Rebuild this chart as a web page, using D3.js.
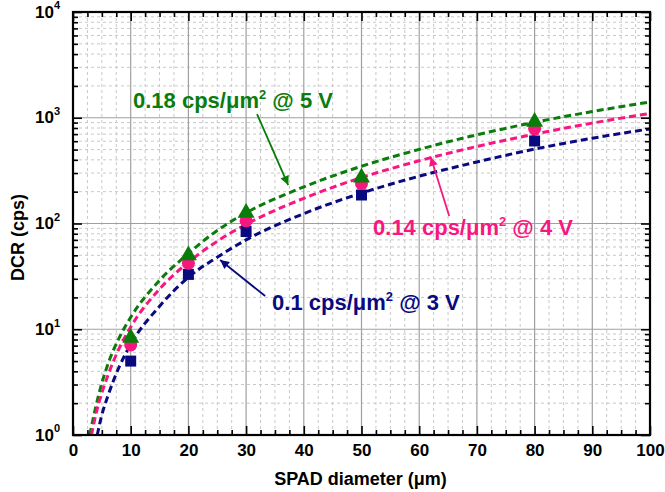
<!DOCTYPE html>
<html>
<head>
<meta charset="utf-8">
<script src="https://cdn.jsdelivr.net/npm/d3@7"></script>
<style>
  body { margin: 0; background: #fff; }
  svg { font-family: "Liberation Sans", Arial, sans-serif; font-weight: bold; }
</style>
</head>
<body>
<svg width="665" height="492"></svg>
<script>
const margin = { top: 12, right: 15, bottom: 57, left: 73 };
const width  = 665 - margin.left - margin.right;
const height = 492 - margin.top - margin.bottom;

// measured points
const diameters = [10, 20, 30, 50, 80];
const dcr3V = [5, 33, 84, 186, 603];
const dcr4V = [7.1, 42, 106, 238, 790];
const dcr5V = [8.3, 50, 126, 272, 915];

// fitted curves
const fit3V_d = [4.2, 5, 6, 8, 10, 15, 20, 25, 30, 40, 50, 60, 70, 80, 90, 100];
const fit3V_v = [1, 1.55, 2.3, 4.4, 7.2, 16.5, 31, 48, 70, 124, 194, 280, 382, 505, 640, 785];
const fit4V_d = [3.2, 4, 5, 6, 8, 10, 15, 20, 25, 30, 40, 50, 60, 70, 80, 90, 100];
const fit4V_v = [1, 1.6, 2.5, 3.6, 6.6, 10.5, 24, 43, 68, 98, 173, 272, 392, 535, 700, 890, 1100];
const fit5V_d = [2.9, 4, 5, 6, 8, 10, 15, 20, 25, 30, 40, 50, 60, 70, 80, 90, 100];
const fit5V_v = [1, 1.9, 3.1, 4.6, 8.3, 13, 29, 52, 86, 126, 222, 348, 502, 690, 905, 1145, 1410];

const xMajor = [0, 10, 20, 30, 40, 50, 60, 70, 80, 90, 100];
const yMajor = [1, 10, 100, 1000, 10000];

const colors = { v3: "#0a0a80", v4: "#f8167f", v5: "#0a7c0a" };

const svg = d3.select("svg");
const chart = svg.append("g").attr("transform", `translate(${margin.left}, ${margin.top})`);

const xScale = d3.scaleLinear().domain([0, 100]).range([0, width]);
const yScale = d3.scaleLog().domain([1, 10000]).range([height, 0]);

const xMinor = d3.range(0, 100.01, 2.5).filter(d => d % 10 !== 0);
const yMinor = [];
[1, 10, 100, 1000].forEach(p => { for (let k = 2; k <= 9; k++) yMinor.push(p * k); });

// grid
chart.append("g").selectAll("line").data(xMinor).enter().append("line")
     .attr("x1", d => xScale(d)).attr("x2", d => xScale(d))
     .attr("y1", 0).attr("y2", height)
     .attr("stroke", "#c8c8c8").attr("stroke-dasharray", "3,3");
chart.append("g").selectAll("line").data(yMinor).enter().append("line")
     .attr("y1", d => yScale(d)).attr("y2", d => yScale(d))
     .attr("x1", 0).attr("x2", width)
     .attr("stroke", "#c8c8c8").attr("stroke-dasharray", "3,3");
chart.append("g").selectAll("line").data(xMajor).enter().append("line")
     .attr("x1", d => xScale(d)).attr("x2", d => xScale(d))
     .attr("y1", 0).attr("y2", height)
     .attr("stroke", "#a0a0a0").attr("stroke-width", 1.2);
chart.append("g").selectAll("line").data(yMajor).enter().append("line")
     .attr("y1", d => yScale(d)).attr("y2", d => yScale(d))
     .attr("x1", 0).attr("x2", width)
     .attr("stroke", "#a0a0a0").attr("stroke-width", 1.2);

// curves
chart.append("clipPath").attr("id", "clip")
     .append("rect").attr("width", width).attr("height", height);

const line = d3.line()
               .x(d => xScale(d[0]))
               .y(d => yScale(d[1]))
               .curve(d3.curveMonotoneX);

const fits = [
  [fit5V_d, fit5V_v, colors.v5],
  [fit4V_d, fit4V_v, colors.v4],
  [fit3V_d, fit3V_v, colors.v3]
];
fits.forEach(f => {
  chart.append("path")
       .attr("clip-path", "url(#clip)")
       .attr("d", line(f[0].map((d, i) => [d, f[1][i]])))
       .attr("fill", "none")
       .attr("stroke", f[2])
       .attr("stroke-width", 3)
       .attr("stroke-dasharray", "7,4");
});

// markers
chart.append("g").selectAll("rect").data(dcr3V).enter().append("rect")
     .attr("x", (d, i) => xScale(diameters[i]) - 5.5)
     .attr("y", d => yScale(d) - 5.5)
     .attr("width", 11).attr("height", 11)
     .attr("fill", colors.v3);
chart.append("g").selectAll("circle").data(dcr4V).enter().append("circle")
     .attr("cx", (d, i) => xScale(diameters[i]))
     .attr("cy", d => yScale(d))
     .attr("r", 6.5)
     .attr("fill", colors.v4);
chart.append("g").selectAll("path").data(dcr5V).enter().append("path")
     .attr("transform", (d, i) => `translate(${xScale(diameters[i])}, ${yScale(d)})`)
     .attr("d", d3.symbol(d3.symbolTriangle, 125))
     .attr("fill", colors.v5);

// axes (ticks pointing inward)
const fmtNone = () => "";
chart.append("g").attr("transform", `translate(0, ${height})`)
     .call(d3.axisBottom(xScale).tickValues(xMinor).tickSize(-5).tickFormat(fmtNone));
const xAxis = chart.append("g").attr("transform", `translate(0, ${height})`)
     .call(d3.axisBottom(xScale).tickValues(xMajor).tickSize(-9).tickPadding(9).tickFormat(d3.format("d")));
chart.append("g")
     .call(d3.axisTop(xScale).tickValues(xMinor).tickSize(-5).tickFormat(fmtNone));
chart.append("g")
     .call(d3.axisTop(xScale).tickValues(xMajor).tickSize(-9).tickFormat(fmtNone));

chart.append("g")
     .call(d3.axisLeft(yScale).tickValues(yMinor).tickSize(-5).tickFormat(fmtNone));
const yAxis = chart.append("g")
     .call(d3.axisLeft(yScale).tickValues(yMajor).tickSize(-9).tickPadding(12).tickFormat(fmtNone));
chart.append("g").attr("transform", `translate(${width}, 0)`)
     .call(d3.axisRight(yScale).tickValues(yMinor).tickSize(-5).tickFormat(fmtNone));
chart.append("g").attr("transform", `translate(${width}, 0)`)
     .call(d3.axisRight(yScale).tickValues(yMajor).tickSize(-9).tickFormat(fmtNone));

chart.selectAll(".domain").remove();
chart.selectAll(".tick line").attr("stroke", "#000").attr("stroke-width", 1.6);

xAxis.selectAll("text")
     .attr("font-size", 17).attr("font-weight", "bold")
     .attr("font-family", "Liberation Sans, Arial, sans-serif")
     .attr("fill", "#000");

yAxis.selectAll(".tick text").each(function(d) {
  const t = d3.select(this);
  t.attr("font-size", 17).attr("font-weight", "bold")
   .attr("font-family", "Liberation Sans, Arial, sans-serif")
   .attr("fill", "#000").attr("dy", "0.3em").attr("x", -13);
  t.append("tspan").text("10");
  t.append("tspan").attr("font-size", 11).attr("dy", "-0.75em").text(Math.round(Math.log10(d)));
});

chart.append("rect")
     .attr("width", width).attr("height", height)
     .attr("fill", "none").attr("stroke", "#000").attr("stroke-width", 2.2);

// axis titles
svg.append("text")
   .attr("x", margin.left + width / 2 - 1)
   .attr("y", 485)
   .attr("text-anchor", "middle")
   .attr("font-size", 18)
   .text("SPAD diameter (\u03bcm)");

svg.append("text")
   .attr("transform", `translate(24, ${margin.top + height / 2 + 14}) rotate(-90)`)
   .attr("text-anchor", "middle")
   .attr("font-size", 18)
   .text("DCR (cps)");

// annotations: [label density, voltage, colour, text pos (d, dcr), arrow start, arrow tip]
const notes = [
  ["0.18", "5", colors.v5, [10.4, 1236], [31.9, 1084], [37.3, 231]],
  ["0.14", "4", colors.v4, [52.0, 78], [65.2, 118], [62.0, 426]],
  ["0.1", "3", colors.v3, [34.5, 15.2], [33.3, 20.6], [25.5, 45.2]]
];

const defs = svg.append("defs");
notes.forEach((n, i) => {
  defs.append("marker")
      .attr("id", "arrow" + i)
      .attr("viewBox", "0 0 10 10")
      .attr("refX", 10).attr("refY", 5)
      .attr("markerWidth", 12).attr("markerHeight", 9)
      .attr("markerUnits", "userSpaceOnUse")
      .attr("orient", "auto")
      .append("path").attr("d", "M0,0 L10,5 L0,10 Z").attr("fill", n[2]);

  chart.append("line")
       .attr("x1", xScale(n[4][0])).attr("y1", yScale(n[4][1]))
       .attr("x2", xScale(n[5][0])).attr("y2", yScale(n[5][1]))
       .attr("stroke", n[2]).attr("stroke-width", 1.8)
       .attr("marker-end", `url(#arrow${i})`);

  const t = chart.append("text")
       .attr("x", xScale(n[3][0])).attr("y", yScale(n[3][1]))
       .attr("font-size", 22).attr("fill", n[2]);
  t.append("tspan").text(n[0] + " cps/\u03bcm");
  t.append("tspan").attr("font-size", 13).attr("dy", -9).text("2");
  t.append("tspan").attr("dy", 9).text(" @ " + n[1] + " V");
});
</script>
</body>
</html>
